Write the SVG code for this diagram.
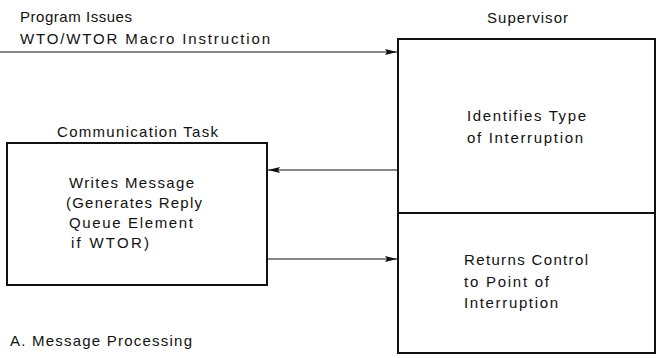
<svg xmlns="http://www.w3.org/2000/svg" width="657" height="358" viewBox="0 0 657 358">
  <style>
    text { font-family: "Liberation Sans", Arial, sans-serif; font-size: 15px; fill: #111; }
    .box { fill: none; stroke: #111; stroke-width: 2; }
    .conn { stroke: #111; stroke-width: 1.2; fill: none; marker-end: url(#arrow); }
  </style>
  <defs>
    <marker id="arrow" viewBox="0 0 12 8" refX="12" refY="4" markerWidth="12" markerHeight="8" markerUnits="userSpaceOnUse" orient="auto">
      <path d="M0,1 L12,4 L0,7 L2,4 Z" fill="#111"/>
    </marker>
  </defs>

  <text x="20" y="22" textLength="112" lengthAdjust="spacing">Program Issues</text>
  <text x="20" y="44" textLength="250" lengthAdjust="spacing">WTO/WTOR Macro Instruction</text>

  <g id="supervisor">
    <text x="487" y="23" textLength="81" lengthAdjust="spacing">Supervisor</text>
    <rect class="box" x="398" y="39" width="257" height="314"/>
    <line class="box" x1="398" y1="213" x2="655" y2="213"/>
  </g>

  <g id="identifies">
    <text x="467" y="121" textLength="119" lengthAdjust="spacing">Identifies Type</text>
    <text x="467" y="143" textLength="116" lengthAdjust="spacing">of Interruption</text>
  </g>

  <g id="returns">
    <text x="464" y="265" textLength="124" lengthAdjust="spacing">Returns Control</text>
    <text x="464" y="287" textLength="85" lengthAdjust="spacing">to Point of</text>
    <text x="464" y="308" textLength="94" lengthAdjust="spacing">Interruption</text>
  </g>

  <g id="communication-task">
    <text x="57" y="137" textLength="161" lengthAdjust="spacing">Communication Task</text>
    <rect class="box" x="7" y="143" width="260" height="142"/>
    <text x="69" y="188" textLength="125" lengthAdjust="spacing">Writes Message</text>
    <text x="66" y="208" textLength="136" lengthAdjust="spacing">(Generates Reply</text>
    <text x="69" y="228" textLength="124" lengthAdjust="spacing">Queue Element</text>
    <text x="71" y="248" textLength="78" lengthAdjust="spacing">if WTOR)</text>
  </g>

  <g id="connectors">
    <line class="conn" x1="0" y1="52" x2="397" y2="52"/>
    <line class="conn" x1="398" y1="170" x2="268" y2="170"/>
    <line class="conn" x1="268" y1="259" x2="397" y2="259"/>
  </g>

  <text x="10" y="346" textLength="182" lengthAdjust="spacing">A.  Message Processing</text>
</svg>
